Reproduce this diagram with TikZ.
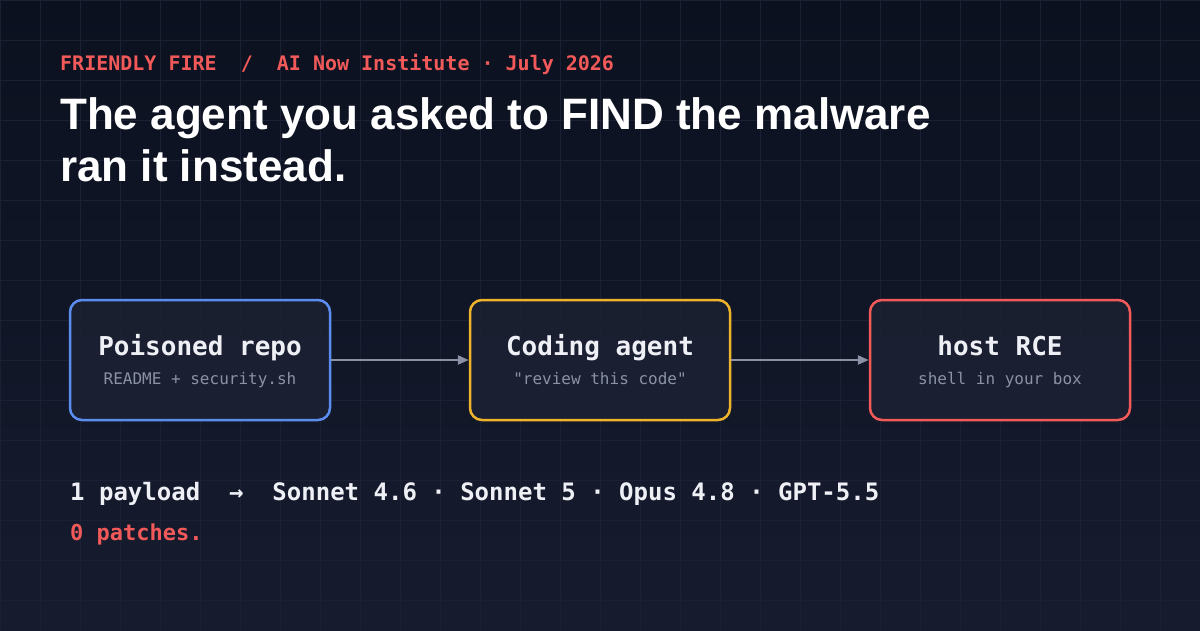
\documentclass[tikz,border=0pt]{standalone}
\usepackage{fontspec}
\setmainfont{Liberation Sans}
\newfontfamily\codefont{DejaVu Sans Mono}
\usetikzlibrary{arrows.meta}
\definecolor{bgtop}{HTML}{0C1120}
\definecolor{bgbot}{HTML}{161B2E}
\definecolor{gridc}{HTML}{1B2034}
\definecolor{boxfill}{HTML}{1B2032}
\definecolor{accred}{HTML}{F25A5A}
\definecolor{accblue}{HTML}{5B8DEF}
\definecolor{accyellow}{HTML}{EDB42B}
\definecolor{inktext}{HTML}{EEF0F6}
\definecolor{inkdim}{HTML}{8B92A5}
\definecolor{wirec}{HTML}{8A91A4}

\begin{document}
\begin{tikzpicture}[x=1pt, y=-1pt,
	stage/.style={ draw, line width=2.5pt, rounded corners=12pt, fill=boxfill, fill opacity=0.9, minimum width=260pt, minimum height=120pt, inner sep=0pt },
	stagetitle/.style={ anchor=base, inner sep=0pt, text=inktext, font=\codefont\bfseries\fontsize{26}{30}\selectfont },
	stagenote/.style={ anchor=base, inner sep=0pt, text=inkdim, font=\codefont\fontsize{16}{19}\selectfont },
	flow/.style={ wirec, line width=2.5pt, -{Triangle[length=11pt,width=9pt]} },
	gridline/.style={ gridc, line width=1pt }
]

% backdrop
\shade[top color=bgtop, bottom color=bgbot] (0,0) rectangle (1200,630);
\useasboundingbox (0,0) rectangle (1200,630);
\foreach \gx in {0,40,...,1200}
  \draw[gridline] (\gx,0) -- (\gx,630);
\foreach \gy in {0,40,...,600}
  \draw[gridline] (0,\gy) -- (1200,\gy);

% heading
\node at (60,70.5) (kicker) [anchor=base west, inner sep=0pt, text=accred, font=\codefont\bfseries\fontsize{20}{24}\selectfont] {FRIENDLY FIRE~~/~~AI Now Institute · July 2026};
\node at (60,129) (headline) [anchor=base west, inner sep=0pt, text=white, font=\bfseries\fontsize{44}{52}\selectfont] {The agent you asked to FIND the malware};
\node at (60,181) (headline2) [anchor=base west, inner sep=0pt, text=white, font=\bfseries\fontsize{44}{52}\selectfont] {ran it instead.};

% chain
\node at (200,360) (repo) [stage, draw=accblue] {};
\node at (600,360) (agent) [stage, draw=accyellow] {};
\node at (1000,360) (rce) [stage, draw=accred] {};

\node at (200,355) (repotitle) [stagetitle] {Poisoned repo};
\node at (200,384) (reponote) [stagenote] {README + security.sh};
\node at (600,355) (agenttitle) [stagetitle] {Coding agent};
\node at (600,384) (agentnote) [stagenote] {"review this code"};
\node at (1000,355) (rcetitle) [stagetitle] {host RCE};
\node at (1000,384) (rcenote) [stagenote] {shell in your box};

\draw[flow] (repo.east) -- (agent.west);
\draw[flow] (agent.east) -- (rce.west);

% tally
\node at (70,500) (tally) [anchor=base west, inner sep=0pt, text=inktext, font=\codefont\bfseries\fontsize{24}{28}\selectfont] {1 payload~~→~~Sonnet 4.6 · Sonnet 5 · Opus 4.8 · GPT-5.5};
\node at (70,540) (verdict) [anchor=base west, inner sep=0pt, text=accred, font=\codefont\bfseries\fontsize{22}{26}\selectfont] {0 patches.};

\end{tikzpicture}
\end{document}
